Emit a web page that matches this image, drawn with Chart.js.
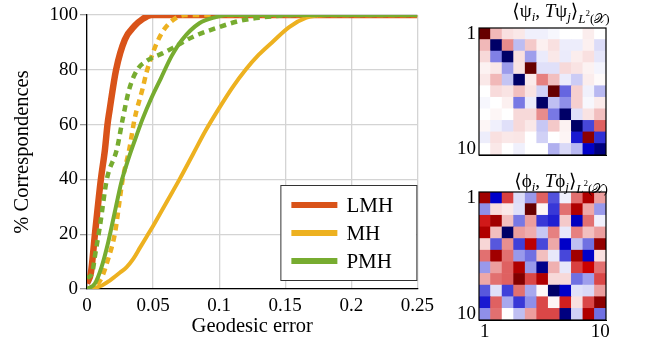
<!DOCTYPE html>
<html>
<head>
<meta charset="utf-8">
<script src="https://cdn.jsdelivr.net/npm/chart.js@4.4.0/dist/chart.umd.min.js"></script>
<style>
  body { margin: 0; background: #fff; }
  canvas { position: absolute; }
</style>
</head>
<body>
<canvas id="curvas" width="440" height="349" style="left:0;top:0"></canvas>
<canvas id="matrizPsi" width="207" height="170" style="left:440px;top:0"></canvas>
<canvas id="matrizPhi" width="207" height="179" style="left:440px;top:170px"></canvas>
<script>
// curvas de error geodesico (x = error, y = % correspondencias)
const errLMH = [0, 0.003, 0.006, 0.0105, 0.0136, 0.0155, 0.017, 0.022, 0.0286, 0.036, 0.042, 0.049, 0.25];
const pctLMH = [2, 6, 20, 40, 51, 60, 65, 80, 91, 96, 98.5, 100, 100];

const errMH = [0, 0.01, 0.017, 0.025, 0.03, 0.035, 0.04, 0.045, 0.05, 0.06, 0.07, 0.08, 0.09, 0.1, 0.11, 0.12, 0.13, 0.14, 0.153, 0.166, 0.175, 0.18, 0.25];
const pctMH = [0, 1, 3, 6, 8, 11, 15, 19, 23, 31.5, 40, 49, 58, 66, 73.5, 80, 85.5, 90, 95.6, 99, 99.8, 100, 100];

const errMHDash = [0, 0.006, 0.011, 0.0158, 0.021, 0.027, 0.032, 0.036, 0.042, 0.045, 0.049, 0.053, 0.058, 0.066, 0.074, 0.25];
const pctMHDash = [0, 1, 4, 10.6, 20, 40, 51, 62, 73, 79, 85, 90, 94.5, 98.5, 100, 100];

const errPMH = [0, 0.006, 0.011, 0.016, 0.021, 0.026, 0.031, 0.036, 0.042, 0.049, 0.056, 0.064, 0.072, 0.085, 0.098, 0.105, 0.25];
const pctPMH = [0, 2, 8, 17, 28, 39, 47, 54, 62, 70, 77, 85, 91, 97, 99.3, 100, 100];

const errPMHDash = [0, 0.004, 0.006, 0.0098, 0.015, 0.0226, 0.027, 0.032, 0.038, 0.046, 0.057, 0.065, 0.08, 0.1, 0.115, 0.13, 0.16, 0.25];
const pctPMHDash = [4, 6, 12, 23, 40, 51, 62, 73, 80, 83.5, 86, 88, 92, 95.6, 97.8, 99, 100, 100];

const metodos = ["LMH", "MH", "PMH"];
const colores = ["#D95319", "#EDB120", "#77AC30"];

// matrices 11x11
const matrizPsi = [
  [0.97, 0.14, 0.06, 0.045, -0.03, -0.03, -0.015, 0, 0, 0.035, 0],
  [0.14, -0.97, 0.225, -0.13, 0.105, 0.03, 0.06, -0.035, -0.035, 0.03, -0.068],
  [0.075, -0.25, -0.97, 0.06, -0.19, -0.04, 0.045, -0.04, 0.035, 0.06, -0.05],
  [0.025, 0.045, -0.195, 0.055, 0.97, -0.06, -0.06, 0.075, 0.055, 0.025, -0.022],
  [0.045, 0.14, -0.115, -0.97, 0.04, 0.25, 0.125, -0.04, -0.1, 0.035, 0.01],
  [0, 0.07, 0.055, 0.125, 0.055, -0.09, 0.97, -0.3, 0.095, -0.03, -0.14],
  [-0.015, 0, 0.03, -0.265, -0.04, -0.97, -0.125, -0.22, 0.095, -0.015, 0.04],
  [0, 0.018, 0, 0.075, 0.075, 0.225, -0.265, -0.97, -0.06, 0.055, 0.125],
  [0.018, -0.03, -0.06, 0.075, 0.045, -0.11, 0.105, 0.025, -0.97, -0.36, 0.31],
  [-0.035, 0.06, 0.045, 0.05, 0, -0.09, 0, 0.02, -0.45, 0.8, -0.405],
  [0, 0.045, 0, -0.03, 0, 0, -0.155, -0.075, -0.14, -0.52, -0.86],
];

const matrizPhi = [
  [0.7, -0.51, 0.375, -0.068, -0.2, 0.31, -0.34, -0.03, 0.28, 0.63, 0.19],
  [-0.22, 0.07, 0.045, -0.06, 0.97, 0.02, -0.39, 0.28, 0.63, 0.17, -0.2],
  [0.45, 0.7, 0.125, -0.265, 0.19, -0.39, -0.44, 0.105, -0.56, 0.28, -0.03],
  [0.63, 0.125, -0.97, 0.19, 0.16, -0.11, 0.25, -0.045, 0.25, 0.125, 0.19],
  [0.08, -0.33, 0.22, -0.375, 0.58, -0.36, 0.17, -0.52, -0.125, -0.28, 0.77],
  [0.28, 0.7, 0.28, -0.2, -0.28, 0.125, -0.045, -0.36, 0.7, -0.52, 0.06],
  [-0.2, 0.19, 0.31, 0.63, -0.2, -0.81, 0.155, -0.045, 0.375, 0.5, 0.28],
  [0.17, 0.28, 0.31, 0.85, 0.36, 0.63, 0.075, 0.075, -0.28, -0.19, 0.36],
  [-0.33, -0.06, -0.375, 0.28, -0.17, 0.015, -0.97, -0.52, -0.06, -0.075, 0.19],
  [-0.45, 0.31, -0.17, -0.39, -0.22, 0.36, 0.02, 0.44, 0.06, 0.36, 0.8],
  [-0.22, 0.28, 0, -0.125, 0.19, 0.36, 0.36, -0.86, -0.09, 0.63, -0.28],
];

const etiquetasMatriz = ["1", "10"];

const SERIF = "'Liberation Serif', 'DejaVu Serif', serif";

const puntos = (xs, ys) => xs.map((x, i) => ({ x: x, y: ys[i] }));

const linea = (label, xs, ys, color, ancho, dash, orden) => ({
    label: label,
    data: puntos(xs, ys),
    borderColor: color,
    backgroundColor: color,
    borderWidth: ancho,
    borderDash: dash,
    showLine: true,
    pointRadius: 0,
    cubicInterpolationMode: "monotone",
    order: orden,
});

// leyenda dentro del area del grafico
const leyenda = {
    id: "leyenda",
    afterDraw(chart) {
        const { ctx, chartArea: a } = chart;
        const x0 = a.right - 137;
        const y0 = a.bottom - 104;
        ctx.save();
        ctx.fillStyle = "#fff";
        ctx.fillRect(x0, y0, 136, 95);
        ctx.strokeStyle = "#333";
        ctx.lineWidth = 1;
        ctx.strokeRect(x0 + 0.5, y0 + 0.5, 136, 95);
        ctx.font = "21px " + SERIF;
        ctx.textBaseline = "middle";
        metodos.forEach((m, i) => {
            const y = y0 + 20 + i * 28;
            ctx.strokeStyle = colores[i];
            ctx.lineWidth = 6;
            ctx.beginPath();
            ctx.moveTo(x0 + 11, y);
            ctx.lineTo(x0 + 57, y);
            ctx.stroke();
            ctx.fillStyle = "#000";
            ctx.fillText(m, x0 + 66, y + 1);
        });
        ctx.restore();
    },
};

new Chart(document.getElementById("curvas"), {
    type: "scatter",
    data: {
        datasets: [
            linea("LMH", errLMH, pctLMH, colores[0], 6.5, [], 5),
            linea("MH", errMHDash, pctMHDash, colores[1], 4.5, [6.5, 5], 4),
            linea("MH", errMH, pctMH, colores[1], 4, [], 3),
            linea("PMH", errPMHDash, pctPMHDash, colores[2], 4.5, [6.5, 5], 2),
            linea("PMH", errPMH, pctPMH, colores[2], 4, [], 1),
        ],
    },
    options: {
        responsive: false,
        animation: false,
        layout: { padding: { top: 15, right: 21, left: 0, bottom: 0 }, autoPadding: false },
        plugins: {
            legend: { display: false },
            tooltip: { enabled: false },
        },
        scales: {
            x: {
                type: "linear",
                min: 0,
                max: 0.25,
                ticks: {
                    stepSize: 0.05,
                    color: "#000",
                    padding: 6,
                    font: { family: SERIF, size: 19 },
                    callback: (v) => String(parseFloat(v.toFixed(2))),
                },
                grid: { color: "#d4d4d4", lineWidth: 1.3, drawTicks: false },
                border: { color: "#000", width: 1.3 },
                title: {
                    display: true,
                    text: "Geodesic error",
                    color: "#000",
                    font: { family: SERIF, size: 20.5 },
                    padding: { top: 0, bottom: 10 },
                },
                afterFit: (s) => { s.height = 60; },
            },
            y: {
                min: 0,
                max: 100,
                ticks: {
                    stepSize: 20,
                    color: "#000",
                    padding: 2,
                    font: { family: SERIF, size: 19 },
                },
                grid: { color: "#d4d4d4", lineWidth: 1.3, tickColor: "#999", tickLength: 7 },
                border: { color: "#000", width: 1.3 },
                title: {
                    display: true,
                    text: "% Correspondences",
                    color: "#000",
                    font: { family: SERIF, size: 20.5 },
                    padding: { top: 10, bottom: 0 },
                },
                afterFit: (s) => { s.width = 87; },
            },
        },
    },
    plugins: [leyenda],
});

// mapa de color azul - blanco - rojo
function cmap(v) {
    const a = Math.min(1, Math.abs(v));
    let hi, lo;
    if (a <= 0.5) {
        const f = a / 0.5;
        hi = 1 - 0.2 * f;
        lo = 1 - f;
    } else {
        const f = (a - 0.5) / 0.5;
        hi = 0.8 - 0.42 * f;
        lo = 0;
    }
    const H = Math.round(hi * 255);
    const L = Math.round(lo * 255);
    return v >= 0 ? `rgb(${H},${L},${L})` : `rgb(${L},${L},${H})`;
}

// titulo con subindices
function titulo(partes, baseY) {
    return {
        id: "titulo",
        afterDraw(chart) {
            const ctx = chart.ctx;
            ctx.save();
            ctx.fillStyle = "#000";
            ctx.textBaseline = "alphabetic";
            const fuente = (p) => (p.italic ? "italic " : "") + p.size + "px " + SERIF;
            let total = 0;
            partes.forEach((p) => {
                ctx.font = fuente(p);
                total += ctx.measureText(p.t).width;
            });
            let x = 121 - total / 2;
            partes.forEach((p) => {
                ctx.font = fuente(p);
                ctx.fillText(p.t, x, baseY + (p.dy || 0));
                x += ctx.measureText(p.t).width;
            });
            ctx.restore();
        },
    };
}

const marco = {
    id: "marco",
    afterDatasetsDraw(chart) {
        const { ctx, chartArea: a } = chart;
        ctx.save();
        ctx.strokeStyle = "#000";
        ctx.lineWidth = 1.2;
        ctx.strokeRect(a.left, a.top, a.right - a.left, a.bottom - a.top);
        ctx.restore();
    },
};

function matriz(id, matrix, letra, verX, padTop, altoX, baseY) {
    const n = matrix.length;
    const columnas = matrix[0].map((_, j) => String(j + 1));
    const datasets = matrix
        .map((fila) => ({
            data: fila.map(() => 1),
            backgroundColor: fila.map(cmap),
            borderWidth: 0,
            barPercentage: 1,
            categoryPercentage: 1,
        }))
        .reverse();
    const partes = [
        { t: "\u27E8" + letra, size: 19 },
        { t: "i", size: 13, italic: true, dy: 4 },
        { t: ", ", size: 19 },
        { t: "T", size: 19, italic: true },
        { t: letra, size: 19 },
        { t: "j", size: 13, italic: true, dy: 4 },
        { t: "\u27E9", size: 19 },
        { t: "L", size: 13, italic: true, dy: 6 },
        { t: "2", size: 9, dy: -1 },
        { t: "(\uD835\uDCB3)", size: 13, dy: 6 },
    ];
    new Chart(document.getElementById(id), {
        type: "bar",
        data: { labels: columnas, datasets: datasets },
        options: {
            responsive: false,
            animation: false,
            layout: { padding: { top: padTop, right: 41, left: 0, bottom: 0 }, autoPadding: false },
            plugins: { legend: { display: false }, tooltip: { enabled: false } },
            scales: {
                x: {
                    stacked: true,
                    grid: { display: false, drawTicks: false },
                    border: { color: "#000" },
                    ticks: {
                        display: verX,
                        autoSkip: false,
                        maxRotation: 0,
                        color: "#000",
                        padding: 1,
                        font: { family: SERIF, size: 19 },
                        callback: (v, i) => (i === 0 ? etiquetasMatriz[0] : i === n - 1 ? etiquetasMatriz[1] : ""),
                    },
                    afterFit: (s) => { s.height = altoX; },
                },
                y: {
                    stacked: true,
                    min: 0,
                    max: n,
                    grid: { display: false, drawTicks: false },
                    border: { color: "#000" },
                    afterBuildTicks: (s) => { s.ticks = [{ value: 0.5 }, { value: n - 0.5 }]; },
                    ticks: {
                        color: "#000",
                        padding: 3,
                        font: { family: SERIF, size: 19 },
                        callback: (v) => (v > n / 2 ? etiquetasMatriz[0] : etiquetasMatriz[1]),
                    },
                    afterFit: (s) => { s.width = 39; },
                },
            },
        },
        plugins: [marco, titulo(partes, baseY)],
    });
}

matriz("matrizPsi", matrizPsi, "\u03C8", false, 28, 15, 17);
matriz("matrizPhi", matrizPhi, "\u03D5", true, 22, 29, 17);
</script>
</body>
</html>
